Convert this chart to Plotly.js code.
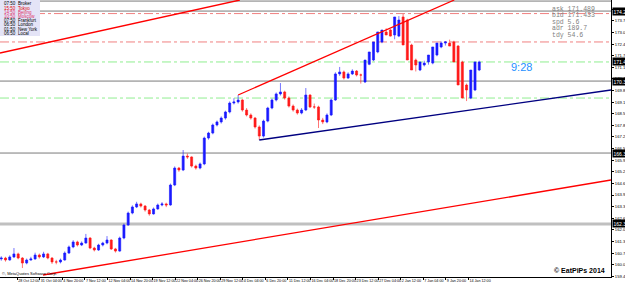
<!DOCTYPE html>
<html><head><meta charset="utf-8">
<script src="https://cdn.plot.ly/plotly-3.0.1.min.js"></script>
<style>html,body{margin:0;padding:0;background:#fff}#chart{width:625px;height:285px}</style>
</head><body><div id="chart"></div>
<script>
// GBPJPY H4-style candles (each candle ~12h), prices
const openP = [160.40,160.45,160.34,160.51,160.68,160.45,160.17,160.34,160.40,160.62,160.51,160.68,160.45,160.23,160.23,160.34,160.73,161.07,161.35,161.18,
161.29,161.57,161.01,160.90,161.18,161.29,161.46,160.96,160.84,161.57,162.30,162.97,163.31,163.48,163.36,163.14,162.92,163.20,163.42,163.48,
163.42,164.54,165.49,165.38,166.16,166.11,165.60,165.49,165.72,167.17,167.45,167.90,168.07,168.29,168.63,169.13,169.19,169.30,168.74,168.46,
168.29,167.79,167.28,168.12,168.85,169.30,169.64,169.75,169.41,168.96,168.74,168.57,168.74,169.58,168.91,168.91,168.18,168.07,168.46,169.30,
170.76,170.87,170.53,170.76,170.92,170.70,170.31,171.30,171.54,171.99,172.55,173.11,173.22,172.94,172.88,173.95,173.78,172.38,171.54,170.98,
171.26,171.43,171.37,171.82,172.27,172.49,172.49,172.55,172.32,171.43,170.14,169.41,169.86,170.98];
const highP = [160.55,160.52,160.60,161.01,160.75,160.50,160.42,160.52,160.75,160.70,160.80,160.74,160.50,160.35,160.42,160.82,161.15,161.45,161.42,161.38,
161.80,161.62,161.08,161.25,161.36,161.68,161.50,161.02,161.65,162.38,163.05,163.40,163.60,163.55,163.42,163.20,163.28,163.50,163.58,163.55,
164.62,165.58,165.55,166.50,166.30,166.15,165.68,165.80,167.25,167.52,167.98,168.15,168.38,168.70,169.22,169.40,169.58,169.35,168.85,168.55,
168.35,167.88,168.20,168.92,169.38,169.72,170.25,169.82,169.50,169.05,168.82,168.85,169.97,169.62,169.10,168.98,168.30,168.55,169.38,170.85,
171.15,170.95,170.85,171.02,170.98,170.78,170.78,171.62,172.05,172.62,173.18,173.32,173.28,173.05,174.00,174.12,173.85,172.45,171.62,171.35,
171.50,171.52,171.90,172.35,172.58,172.60,172.68,172.62,172.38,171.50,170.22,169.95,171.05,171.50];
const lowP = [160.30,160.25,160.30,160.45,160.38,159.89,160.10,160.30,160.35,160.42,160.45,160.38,160.12,160.10,160.15,160.30,160.68,161.00,161.10,161.12,
161.25,160.95,160.82,160.85,161.10,161.22,160.90,160.76,160.80,161.50,162.25,162.90,163.25,163.28,163.05,162.82,162.88,163.15,163.35,163.30,
163.38,164.48,165.28,165.32,166.00,165.52,165.40,165.42,165.65,167.08,167.38,167.82,167.98,168.20,168.55,169.05,169.10,168.65,168.38,168.20,
167.70,167.06,167.20,168.05,168.78,169.22,169.55,169.32,168.88,168.65,168.48,168.50,168.68,168.85,168.80,167.73,167.95,168.00,168.40,169.25,
170.65,170.45,170.48,170.70,170.62,170.22,170.25,171.25,171.48,171.92,172.48,173.02,172.85,172.70,172.82,173.70,172.30,171.45,170.90,170.92,
171.18,171.28,171.30,171.75,172.20,172.35,172.42,172.25,171.35,170.05,169.24,169.35,169.80,170.92];
const closeP = [160.45,160.34,160.51,160.68,160.45,160.17,160.34,160.40,160.62,160.51,160.68,160.45,160.23,160.23,160.34,160.73,161.07,161.35,161.18,161.29,
161.57,161.01,160.90,161.18,161.29,161.46,160.96,160.84,161.57,162.30,162.97,163.31,163.48,163.36,163.14,162.92,163.20,163.42,163.48,163.42,
164.54,165.49,165.38,166.16,166.11,165.60,165.49,165.72,167.17,167.45,167.90,168.07,168.29,168.63,169.13,169.19,169.30,168.74,168.46,168.29,
167.79,167.28,168.12,168.85,169.30,169.64,169.75,169.41,168.96,168.74,168.57,168.74,169.58,168.91,168.91,168.18,168.07,168.46,169.30,170.76,
170.87,170.53,170.76,170.92,170.70,170.70,171.54,171.99,172.55,173.11,173.22,172.94,172.88,173.95,173.78,172.38,171.54,170.98,171.26,171.43,
171.37,171.82,172.27,172.49,172.49,172.55,172.32,171.43,170.14,169.41,169.86,170.98,171.43,171.433];

const timeLabels = ["23 Oct 20:00","28 Oct 12:00","31 Oct 04:00","4 Nov 20:00","7 Nov 12:00","12 Nov 04:00","14 Nov 20:00","19 Nov 12:00","22 Nov 04:00","26 Nov 20:00","29 Nov 12:00","4 Dec 04:00","6 Dec 20:00","11 Dec 12:00","16 Dec 04:00","18 Dec 20:00","23 Dec 12:00","27 Dec 04:00","2 Jan 12:00","7 Jan 04:00","9 Jan 20:00","14 Jan 12:00"];

// horizontal levels (price)
const grayLevels = [174.84, 174.28, 170.36, 166.33];
const redLevels = [174.14, 172.55];
const greenLevels = [171.43, 169.41];
const silverLevels = [162.36];
const priceTags = [174.28, 171.433, 170.36, 166.33, 162.36];

// trend lines (candle index, price)
const tlTopX = [-0.3, 56.4], tlTopY = [171.93, 174.90];
const chanX = [56, 107.1], chanY = [169.58, 174.90];
const lowRedX = [9.87, 144.15], lowRedY = [159.50, 164.82];
const navyX = [61, 144.15], navyY = [167.06, 169.86];

const clockTimes = ["07:50","15:50","14:50","10:50","07:50","06:50","01:50","06:50"];
const clockCities = ["Broker","Tokyo","Beijing","Moscow","Frankfurt","London","New York","Local"];
const clockColors = ["#000","#e00000","#e0306a","#e0306a","#000","#000","#000","#000"];

const infoLabels = ["ask","bid","spd","adr","tdy"];
const infoValues = ["171.489","171.433","5.6","189.7","54.6"];

const idx = closeP.map((_, i) => i);
const W = 611, H = 277;
const px = v => v / W, py = v => 1 - v / H;

const traces = [
  {type:'candlestick', x: idx, open: openP, high: highP, low: lowP, close: closeP,
   increasing:{line:{color:'#1a1aff', width:0.6}, fillcolor:'#1a1aff'},
   decreasing:{line:{color:'#ff1a1a', width:0.6}, fillcolor:'#ff1a1a'},
   whiskerwidth:0, hoverinfo:'skip', showlegend:false},
  {type:'scatter', mode:'lines', x: tlTopX, y: tlTopY, line:{color:'#ff0000', width:1.3}, hoverinfo:'skip', showlegend:false},
  {type:'scatter', mode:'lines', x: chanX, y: chanY, line:{color:'#ff0000', width:1.3}, hoverinfo:'skip', showlegend:false},
  {type:'scatter', mode:'lines', x: lowRedX, y: lowRedY, line:{color:'#ff0000', width:1.3}, hoverinfo:'skip', showlegend:false},
  {type:'scatter', mode:'lines', x: navyX, y: navyY, line:{color:'#000080', width:1.3}, hoverinfo:'skip', showlegend:false}
];

const shapes = [];
grayLevels.forEach(v => shapes.push({type:'line', xref:'paper', yref:'y', x0:0, x1:1, y0:v, y1:v, line:{color:'#7a7a7a', width:1}, layer:'below'}));
redLevels.forEach(v => shapes.push({type:'line', xref:'paper', yref:'y', x0:0, x1:1, y0:v, y1:v, line:{color:'#f08080', width:1, dash:'dashdot'}, layer:'below'}));
greenLevels.forEach(v => shapes.push({type:'line', xref:'paper', yref:'y', x0:0, x1:1, y0:v, y1:v, line:{color:'#90ee90', width:1, dash:'dashdot'}, layer:'below'}));
silverLevels.forEach(v => shapes.push({type:'line', xref:'paper', yref:'y', x0:0, x1:1, y0:v, y1:v, line:{color:'#c0c0c0', width:3}, layer:'below'}));
shapes.push({type:'rect', xref:'paper', yref:'paper', x0:0, x1:px(40), y0:py(36), y1:1, fillcolor:'#e4e4f7', line:{width:0}, layer:'above'});

const annotations = [];
clockTimes.forEach((t, i) => {
  const y = py(4 + i * 4.2);
  annotations.push({xref:'paper', yref:'paper', x:px(2), y, xanchor:'left', yanchor:'middle', text:t, showarrow:false, font:{family:'Liberation Sans', size:4.5, color:clockColors[i]}});
  annotations.push({xref:'paper', yref:'paper', x:px(16), y, xanchor:'left', yanchor:'middle', text:clockCities[i], showarrow:false, font:{family:'Liberation Sans', size:4.5, color:clockColors[i]}});
});
infoLabels.forEach((l, i) => {
  annotations.push({xref:'paper', yref:'paper', x:px(550), y:py(9.5 + i * 6.4), xanchor:'left', yanchor:'middle', text:l + ' ' + infoValues[i], showarrow:false, font:{family:'Liberation Mono', size:6.5, color:'#808080'}});
});
annotations.push({xref:'paper', yref:'paper', x:px(521), y:py(67), xanchor:'center', yanchor:'middle', text:'9:28', showarrow:false, font:{family:'Liberation Sans', size:11, color:'#1e90ff'}});
annotations.push({xref:'paper', yref:'paper', x:px(607), y:py(270), xanchor:'right', yanchor:'middle', text:'<b>© EatPiPs 2014</b>', showarrow:false, font:{family:'Liberation Sans', size:7, color:'#000'}});
annotations.push({xref:'paper', yref:'paper', x:0, y:py(273), xanchor:'left', yanchor:'middle', text:'©, MetaQuotes Software Corp.', showarrow:false, font:{family:'Liberation Sans', size:4, color:'#000'}});
priceTags.forEach(v => {
  annotations.push({xref:'paper', yref:'y', x:1, y:v, xanchor:'left', yanchor:'middle', text:v.toFixed(3), showarrow:false, bgcolor:'#000', borderpad:0.5, xshift:1, font:{family:'Liberation Sans', size:5, color:'#fff'}});
});

const tickVals = timeLabels.map((_, i) => (i * 16 - 4.7) / 3);

const layout = {
  width:625, height:285,
  margin:{l:0, r:14, t:0, b:8, pad:0},
  paper_bgcolor:'#fff', plot_bgcolor:'#fff',
  showlegend:false,
  xaxis:{range:[-0.3, 144.15], tickvals:tickVals, ticktext:timeLabels, ticklabelposition:'outside right', tickangle:0,
    tickfont:{family:'Liberation Sans', size:3.7, color:'#000'}, ticks:'outside', ticklen:2, tickcolor:'#000',
    showline:true, linecolor:'#000', linewidth:1, showgrid:false, zeroline:false, rangeslider:{visible:false}, fixedrange:true},
  yaxis:{range:[159.388, 174.9], side:'right', tick0:160.73, dtick:0.65, tickformat:'.3f',
    tickfont:{family:'Liberation Sans', size:4.2, color:'#000'}, ticks:'outside', ticklen:2, tickcolor:'#000',
    showline:true, linecolor:'#000', linewidth:1, showgrid:false, zeroline:false, fixedrange:true},
  shapes, annotations
};

Plotly.newPlot('chart', traces, layout, {staticPlot:true, displayModeBar:false});
</script></body></html>
